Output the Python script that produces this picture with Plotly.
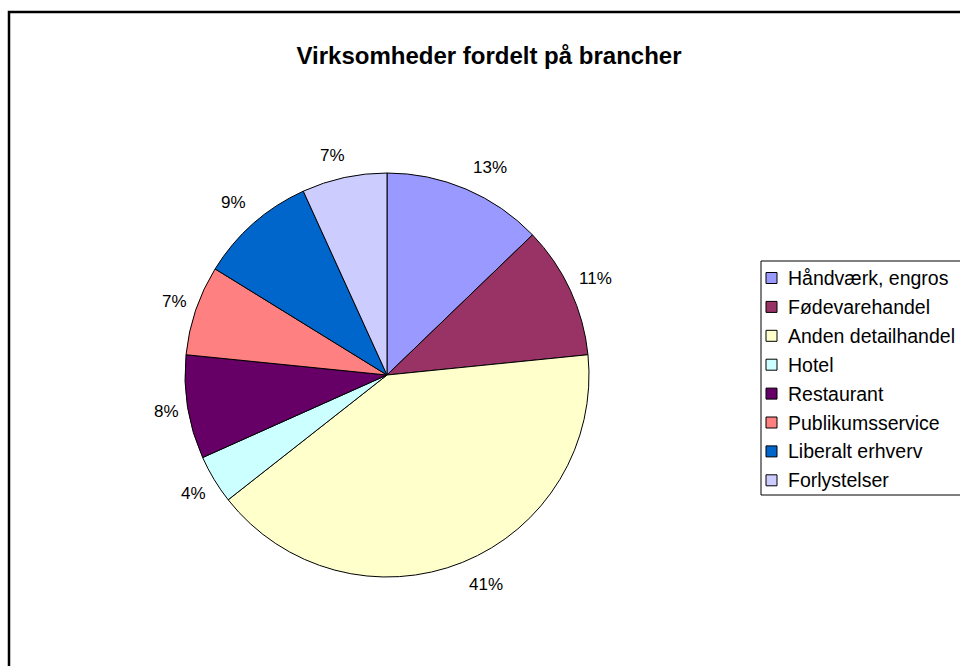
import math
import plotly.graph_objects as go

# Share of businesses by sector
categories = [
    "Håndværk, engros",
    "Fødevarehandel",
    "Anden detailhandel",
    "Hotel",
    "Restaurant",
    "Publikumsservice",
    "Liberalt erhverv",
    "Forlystelser",
]
shares = [12.8, 10.6, 41.0, 3.9, 8.3, 7.2, 9.4, 6.8]
colors = ["#9999FF", "#993366", "#FFFFCC", "#CCFFFF",
          "#660066", "#FF8080", "#0066CC", "#CCCCFF"]

W, H = 960, 666
FONT = "Liberation Sans, Arial, sans-serif"
LABEL_SIZE = 17
LEGEND_SIZE = 19.5


def px_x(v):
    return v / W


def px_y(v):
    return 1 - v / H


# pie geometry in pixels
cx, cy, r = 387, 375, 202

fig = go.Figure(go.Pie(
    labels=categories,
    values=shares,
    sort=False,
    direction="clockwise",
    rotation=0,
    marker=dict(colors=colors, line=dict(color="black", width=1)),
    textinfo="none",
    hoverinfo="label+percent",
    showlegend=False,
    domain=dict(x=[px_x(cx - r), px_x(cx + r)],
                y=[px_y(cy + r), px_y(cy - r)]),
))

# percentage labels outside each slice: anchored next to the rim at the
# slice mid-angle and pushed outward by half the text box
total = sum(shares)
annotations = []
cum = 0.0
for v in shares:
    mid = (cum + v / 2) / total * 2 * math.pi
    cum += v
    text = f"{round(v / total * 100)}%"
    half_w = ((len(text) - 1) * 0.556 + 0.889) * LABEL_SIZE / 2
    s, c = math.sin(mid), math.cos(mid)
    hx = math.copysign(5 + half_w, s) * min(1.0, abs(s) / 0.35)
    vy = math.copysign(18, c) * min(1.0, abs(c) / 0.75)
    lx = cx + (r + 4) * s + hx
    ly = cy - (r + 4) * c - vy
    annotations.append(dict(
        x=px_x(lx), y=px_y(ly), xref="paper", yref="paper",
        text=text, showarrow=False,
        xanchor="center", yanchor="middle",
        font=dict(family=FONT, size=LABEL_SIZE, color="black"),
    ))

# frame around the whole chart
shapes = [dict(
    type="rect", xref="paper", yref="paper",
    x0=px_x(9), x1=px_x(990), y0=px_y(700), y1=px_y(12),
    line=dict(color="black", width=2.5), fillcolor="rgba(0,0,0,0)",
)]

# legend box with a colour key per category
leg_left, leg_top, leg_bottom = 761, 261, 495
row0, row_step = 278, 28.9
shapes.append(dict(
    type="rect", xref="paper", yref="paper",
    x0=px_x(leg_left), x1=px_x(990), y0=px_y(leg_bottom), y1=px_y(leg_top),
    line=dict(color="black", width=1), fillcolor="white", layer="below",
))
for i, (name, col) in enumerate(zip(categories, colors)):
    yc = row0 + i * row_step
    shapes.append(dict(
        type="rect", xref="paper", yref="paper",
        x0=px_x(766), x1=px_x(777), y0=px_y(yc + 5.5), y1=px_y(yc - 5.5),
        line=dict(color="black", width=1), fillcolor=col,
    ))
    annotations.append(dict(
        x=px_x(786), y=px_y(yc), xref="paper", yref="paper",
        text=name, showarrow=False, xanchor="left", yanchor="middle",
        font=dict(family=FONT, size=LEGEND_SIZE, color="black"),
    ))

fig.update_layout(
    width=W, height=H,
    margin=dict(l=0, r=0, t=0, b=0, autoexpand=False),
    paper_bgcolor="white",
    plot_bgcolor="white",
    title=dict(
        text="<b>Virksomheder fordelt på brancher</b>",
        x=489 / W, y=px_y(56), xanchor="center", yanchor="middle",
        font=dict(family=FONT, size=24, color="black"),
    ),
    showlegend=False,
    annotations=annotations,
    shapes=shapes,
)

fig.write_html("out.html")
